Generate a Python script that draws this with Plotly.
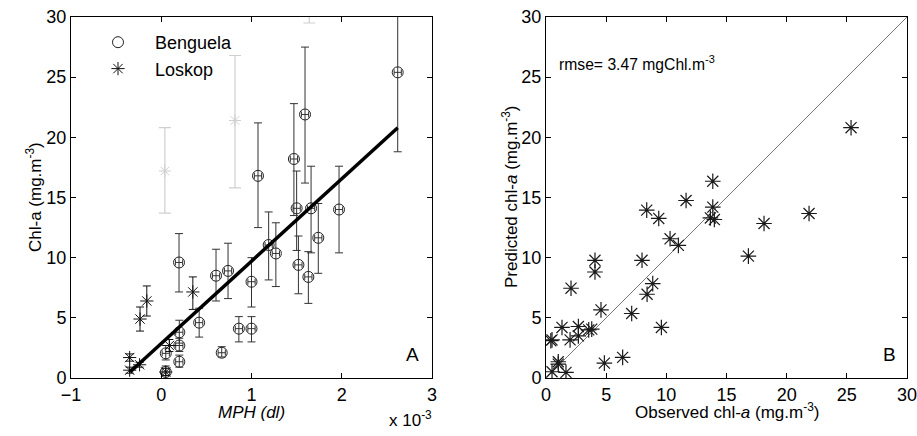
import plotly.graph_objects as go

# ---------------- Panel A data (MPH in units of 1e-3) ----------------
ben_x = [0.05, 0.05, 0.20, 0.20, 0.20, 0.197, 0.42, 0.607, 0.67, 0.74, 0.86, 1.00, 1.00,
         1.072, 1.19, 1.27, 1.47, 1.50, 1.52, 1.593, 1.63, 1.66, 1.74, 1.97, 2.62]
ben_y = [0.5, 2.05, 1.35, 2.7, 3.8, 9.6, 4.6, 8.5, 2.1, 8.9, 4.1, 4.1, 8.0,
         16.8, 11.05, 10.35, 18.2, 14.1, 9.4, 21.9, 8.4, 14.1, 11.65, 14.0, 25.4]
ben_hi = [1.0, 2.7, 1.9, 3.3, 4.8, 12.0, 5.8, 10.7, 2.6, 11.2, 5.1, 5.1, 10.0,
          21.2, 13.8, 12.9, 22.8, 17.2, 11.8, 27.5, 10.5, 17.6, 14.5, 17.6, 32.0]
ben_lo = [0.2, 1.5, 0.9, 2.2, 2.9, 7.15, 3.4, 6.4, 1.75, 6.6, 3.0, 3.0, 5.9,
          12.5, 8.15, 7.6, 13.5, 10.6, 7.0, 16.2, 6.2, 10.4, 8.7, 10.4, 18.8]

los_x = [-0.35, -0.35, -0.24, -0.235, -0.16, 0.09, 0.05, 0.35]
los_y = [1.7, 0.65, 1.1, 4.9, 6.4, 2.7, 0.5, 7.15]
los_hi = [2.0, 0.9, 1.3, 5.9, 7.65, 3.2, 0.8, 8.4]
los_lo = [1.4, 0.4, 0.9, 3.9, 5.15, 2.2, 0.2, 5.7]

out_x = [0.04, 0.817, 1.64]
out_y = [17.2, 21.4, 33.5]
out_hi = [20.8, 26.8, 38.0]
out_lo = [13.7, 15.8, 29.5]

fit_x = [-0.346, 2.62]
fit_y = [0.5, 20.8]

# ---------------- Panel B data ----------------
obs = [13.86, 11.64, 8.37, 9.37, 13.86, 13.66, 13.99, 10.31, 11.0, 7.98, 4.07, 4.07,
       2.08, 8.87, 8.4, 4.57, 7.12, 1.33, 2.69, 3.55, 3.8, 9.59, 0.5, 0.4, 2.0, 2.69,
       1.02, 1.02, 4.85, 6.37, 0.5, 1.66, 16.82, 18.12, 21.86, 25.35]
pred = [16.35, 14.75, 13.95, 13.26, 14.2, 13.3, 13.17, 11.57, 11.02, 9.78, 9.78, 8.81,
        7.46, 7.84, 6.96, 5.66, 5.36, 4.2, 4.28, 4.0, 4.06, 4.2, 3.17, 3.1, 3.17, 3.5,
        1.35, 1.15, 1.24, 1.71, 0.52, 0.47, 10.13, 12.84, 13.67, 20.8]
one_to_one = [0, 30]

ticks_a_x = [-1, 0, 1, 2, 3]
ticks_y = [0, 5, 10, 15, 20, 25, 30]

FONT = "Liberation Sans, Arial, sans-serif"
W, H = 917, 436
OFF = 0  # body margin removed by post_script


def px(x):
    return (x - OFF) / W


def py(y):
    return 1 - (y - OFF) / H


def plus(y, hi):
    return [h - v for v, h in zip(y, hi)]


def minus(y, lo):
    return [v - l for v, l in zip(y, lo)]


fig = go.Figure()

fig.add_trace(go.Scatter(
    x=out_x, y=out_y, mode="markers", showlegend=False,
    marker=dict(symbol="asterisk-open", size=10, color="#cfcfcf", line=dict(color="#cfcfcf", width=1)),
    error_y=dict(type="data", symmetric=False, array=plus(out_y, out_hi),
                 arrayminus=minus(out_y, out_lo), color="#cfcfcf", thickness=1.2, width=6),
    xaxis="x", yaxis="y"))

fig.add_trace(go.Scatter(
    x=ben_x, y=ben_y, mode="markers", name="Benguela",
    marker=dict(symbol="circle-open", size=11, color="#222", line=dict(color="#222", width=1)),
    error_y=dict(type="data", symmetric=False, array=plus(ben_y, ben_hi),
                 arrayminus=minus(ben_y, ben_lo), color="#333", thickness=1, width=4),
    error_x=dict(type="constant", value=0.04, color="#333", thickness=1, width=3),
    xaxis="x", yaxis="y"))

fig.add_trace(go.Scatter(
    x=los_x, y=los_y, mode="markers", name="Loskop",
    marker=dict(symbol="asterisk-open", size=11, color="#111", line=dict(color="#111", width=1)),
    error_y=dict(type="data", symmetric=False, array=plus(los_y, los_hi),
                 arrayminus=minus(los_y, los_lo), color="#111", thickness=1, width=4),
    xaxis="x", yaxis="y"))

fig.add_trace(go.Scatter(
    x=fit_x, y=fit_y, mode="lines", showlegend=False,
    line=dict(color="black", width=3.5), xaxis="x", yaxis="y"))

fig.add_trace(go.Scatter(
    x=one_to_one, y=one_to_one, mode="lines", showlegend=False,
    line=dict(color="#777", width=1), xaxis="x2", yaxis="y2"))

fig.add_trace(go.Scatter(
    x=obs, y=pred, mode="markers", showlegend=False,
    marker=dict(symbol="asterisk-open", size=13, color="#1a1a1a", line=dict(color="#1a1a1a", width=1.2)),
    xaxis="x2", yaxis="y2"))

axis_common = dict(showgrid=False, zeroline=False, showline=True, linecolor="black",
                   linewidth=1, mirror="ticks", ticks="inside", ticklen=5,
                   tickcolor="black", automargin=False, ticklabeloverflow="allow",
                   tickfont=dict(family=FONT, size=18, color="black"))

ydom = [py(378), py(17)]


def label(text, x, y, size=17, angle=0, xanchor="center"):
    return dict(text=text, xref="paper", yref="paper", x=px(x), y=py(y),
                xanchor=xanchor, yanchor="middle", textangle=angle,
                showarrow=False, font=dict(family=FONT, size=size, color="black"))


fig.update_layout(
    width=W, height=H,
    margin=dict(l=0, r=0, t=0, b=0, autoexpand=False),
    paper_bgcolor="white", plot_bgcolor="white",
    font=dict(family=FONT, color="black"),
    xaxis=dict(domain=[px(71), px(432)], range=[-1, 3], tickvals=ticks_a_x, **axis_common),
    yaxis=dict(domain=ydom, range=[0, 30], tickvals=ticks_y, **axis_common),
    xaxis2=dict(domain=[px(546), px(907)], range=[0, 30], tickvals=ticks_y,
                anchor="y2", **axis_common),
    yaxis2=dict(domain=ydom, range=[0, 30], tickvals=ticks_y, anchor="x2", **axis_common),
    legend=dict(x=px(81), y=py(24), xanchor="left", yanchor="top",
                bgcolor="rgba(0,0,0,0)", font=dict(family=FONT, size=18, color="black"),
                tracegroupgap=0, itemwidth=64),
    annotations=[
        label("<i>MPH (dl)</i>", 251, 412),
        label("Chl-a (mg.m<sup>-3</sup>)", 34, 197, angle=-90),
        label("Observed chl-<i>a</i> (mg.m<sup>-3</sup>)", 727, 411),
        label("Predicted chl-<i>a</i> (mg.m<sup>-3</sup>)", 510, 197, angle=-90),
        label("x 10<sup>-3</sup>", 410, 419),
        label("A", 412, 354, size=19),
        label("B", 889, 354, size=19),
        label("rmse= 3.47 mgChl.m<sup>-3</sup>", 557, 63, size=15.7, xanchor="left"),
    ],
)

fig.write_html(
    "out.html",
    config={"displayModeBar": False},
    post_script="document.body.style.margin='0';document.body.style.overflow='hidden';",
)
